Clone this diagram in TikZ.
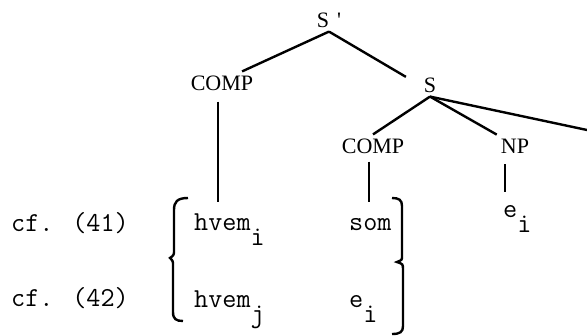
\documentclass[tikz,border=0pt]{standalone}
\usepackage{fontspec}
\newfontfamily\treefont{Liberation Serif}
\usepackage{tikz}
\newcommand{\lowsub}[1]{\raisebox{-7.5pt}{#1}}

\begin{document}
\begin{tikzpicture}[x=0.5pt, y=-0.5pt, line width=1.2pt,
  cat/.style={inner sep=1.5pt, font=\treefont\fontsize{11}{13}\selectfont},
  word/.style={inner sep=0pt, anchor=base west, font=\ttfamily\fontsize{13.7}{16}\selectfont}]
\useasboundingbox (0, 0) rectangle (587, 336);
% tree
\node[cat] (Sbar) at (329, 20) {S\hspace{4pt}\textquotesingle};
\node[cat] (compL) at (222, 83) {COMP};
\node[cat] (S) at (430, 85) {S};
\node[cat] (compR) at (373, 146) {COMP};
\node[cat] (NP) at (515, 146) {NP};
\coordinate (offR) at (587, 130);
\coordinate (rowtop) at (0, 202);
% words
\node[word] (cf41) at (10, 231) {cf. (41)};
\node[word] (cf42) at (10, 306) {cf. (42)};
\node[word] (hvemI) at (193, 230) {hvem\lowsub{i}};
\node[word] (som) at (348, 230) {som};
\node[word] (hvemJ) at (193, 307) {hvem\lowsub{j}};
\node[word] (eI) at (348, 307) {e\lowsub{i}};
\node[word] (eNP) at (502, 217) {e\lowsub{i}};
% branches
\draw (Sbar.south) -- (compL.30);
\draw[shorten >=8pt] (Sbar.south) -- (S.west);
\draw (S.south) -- (compR.north);
\draw (S.south) -- (NP.north west);
\draw (S.south) -- (offR);
\draw ([xshift=-2pt, yshift=-3.5pt]compL.south) -- ([xshift=-2pt]compL.south |- rowtop);
\draw ([xshift=-2pt, yshift=-2pt]compR.south) -- ([xshift=-2pt]compR.south |- rowtop);
\draw ([xshift=-5pt, yshift=-3.5pt]NP.south) -- ([xshift=-5pt, yshift=6pt]NP.south |- eNP.north);
% brackets
\draw (188, 198) .. controls (177, 198) and (174, 202) .. (174, 210) -- (174, 250)
  .. controls (174, 255) .. (170, 258) .. controls (173, 261) .. (173, 266) -- (173, 312)
  .. controls (173, 319) and (176, 321) .. (183, 321);
\draw (392, 198) .. controls (399, 198) and (402, 200) .. (402, 206) -- (402, 256)
  .. controls (402, 260) .. (397, 262) .. controls (403, 264) .. (403, 270) -- (403, 326)
  .. controls (403, 332) and (400, 334) .. (392, 334);
\end{tikzpicture}
\end{document}
